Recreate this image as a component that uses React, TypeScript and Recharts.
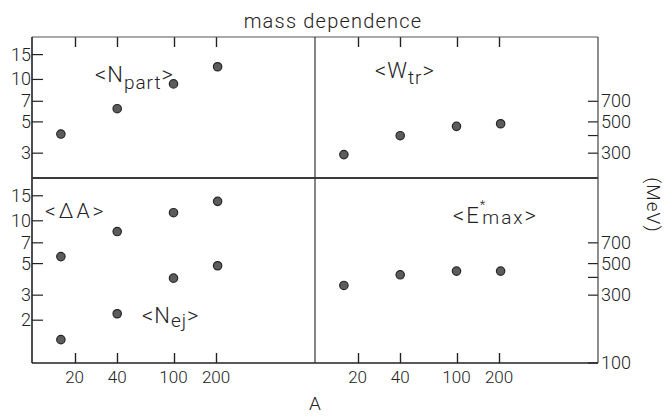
import React from 'react';
import { ScatterChart, Scatter, XAxis, YAxis } from 'recharts';

// mass numbers of the four systems
const massNumbers = [16, 40, 100, 205];
const massTicks = [20, 40, 100, 200];

const nPart = [4.1, 6.2, 9.3, 12.3];
const wTr = [293, 399, 465, 485];
const deltaA = [5.6, 8.4, 11.4, 13.7];
const nEj = [1.46, 2.22, 3.95, 4.83];
const eMax = [351, 417, 443, 443];

const topLeftTicks = [3, 5, 7, 10, 15];
const bottomLeftTicks = [2, 3, 5, 7, 10, 15];
const topRightTicks = [300, 400, 500, 700];
const bottomRightTicks = [100, 300, 400, 500, 700];
const labelledMeV = [100, 300, 500, 700];

const toPoints = (ys: number[]) => massNumbers.map((a, i) => ({ a, v: ys[i] }));

const INK = '#222';
const FONT = 'Roboto, "Liberation Sans", sans-serif';
const PLOT_TOP = 37;

// snap thin tick lines onto the pixel grid so they stay crisp
const crisp = (v: number) => Math.round(v) + 0.5;

const Dot = (p: any) => (
  <circle cx={p.cx} cy={p.cy} r={4.2} fill="#5c5c5c" stroke="#262626" strokeWidth={1.2} />
);

const BottomTick = (props: any) => {
  const { x, y, payload } = props;
  return (
    <g>
      <line x1={crisp(x)} x2={crisp(x)} y1={y} y2={y - 10} stroke={INK} strokeWidth={1.4} />
      <text x={x} y={y + 20} textAnchor="middle" fontSize={17} fontFamily={FONT} fontWeight={300} fill={INK}>
        {payload.value}
      </text>
    </g>
  );
};

// upper panels: the x scale's ticks are only marked on the top edge, pointing down
const TopTick = (props: any) => {
  const { x } = props;
  return (
    <g>
      <line x1={crisp(x)} x2={crisp(x)} y1={PLOT_TOP} y2={PLOT_TOP + 10} stroke={INK} strokeWidth={1.4} />
    </g>
  );
};

const LeftTick = (props: any) => {
  const { x, y, payload } = props;
  return (
    <g>
      <line x1={x} x2={x + 11} y1={y} y2={y} stroke={INK} strokeWidth={1.2} />
      <text x={x - 1} y={y + 6} textAnchor="end" fontSize={18} fontFamily={FONT} fontWeight={300} fill={INK}>
        {payload.value}
      </text>
    </g>
  );
};

const RightTick = (props: any) => {
  const { x, y, payload } = props;
  return (
    <g>
      <line x1={x} x2={x - 10} y1={y} y2={y} stroke={INK} strokeWidth={1.2} />
      {labelledMeV.includes(payload.value) && (
        <text x={x + 3} y={y + 6} textAnchor="start" fontSize={18} fontFamily={FONT} fontWeight={300} fill={INK}>
          {payload.value}
        </text>
      )}
    </g>
  );
};

// axes get 1px of size (0 makes recharts skip them), margins make up the rest
const xAxisProps = {
  dataKey: 'a',
  type: 'number' as const,
  scale: 'log' as const,
  domain: [10, 1000],
  allowDataOverflow: true,
  ticks: massTicks,
  interval: 0 as const,
  height: 1,
  tickLine: false,
  tickSize: 0,
  tickMargin: 0,
};

const yBase = {
  dataKey: 'v',
  type: 'number' as const,
  scale: 'log' as const,
  allowDataOverflow: true,
  interval: 0 as const,
  width: 1,
  axisLine: false,
  tickLine: false,
  tickSize: 0,
  tickMargin: 0,
};

const Panel = ({ left, top, width, height, margin, children }: any) => (
  <div style={{ position: 'absolute', left, top, width, height }}>
    <ScatterChart width={width} height={height} margin={margin}>
      {children}
    </ScatterChart>
  </div>
);

export default function App() {
  return (
    <div style={{ position: 'absolute', left: 0, top: 0, width: 664, height: 416, background: '#fff', fontFamily: FONT }}>
      <Panel left={0} top={0} width={315} height={179} margin={{ top: 37, left: 31, right: 0, bottom: 0 }}>
        <XAxis {...xAxisProps} axisLine={{ stroke: '#3a3a3a', strokeWidth: 2 }} tick={<TopTick />} />
        <YAxis {...yBase} domain={[2, 20]} ticks={topLeftTicks} tick={<LeftTick />} />
        <Scatter data={toPoints(nPart)} shape={Dot} isAnimationActive={false} />
      </Panel>
      <Panel left={315} top={0} width={349} height={179} margin={{ top: 37, left: 0, right: 65, bottom: 0 }}>
        <XAxis {...xAxisProps} axisLine={{ stroke: '#3a3a3a', strokeWidth: 2 }} tick={<TopTick />} />
        <YAxis {...yBase} orientation="right" domain={[200, 2000]} ticks={topRightTicks} tick={<RightTick />} />
        <Scatter data={toPoints(wTr)} shape={Dot} isAnimationActive={false} />
      </Panel>
      <Panel left={0} top={178} width={315} height={238} margin={{ top: 0, left: 31, right: 0, bottom: 52 }}>
        <XAxis {...xAxisProps} axisLine={false} tick={<BottomTick />} />
        <YAxis {...yBase} domain={[1, 20]} ticks={bottomLeftTicks} tick={<LeftTick />} />
        <Scatter data={toPoints(deltaA)} shape={Dot} isAnimationActive={false} />
        <Scatter data={toPoints(nEj)} shape={Dot} isAnimationActive={false} />
      </Panel>
      <Panel left={315} top={178} width={349} height={238} margin={{ top: 0, left: 0, right: 65, bottom: 52 }}>
        <XAxis {...xAxisProps} axisLine={false} tick={<BottomTick />} />
        <YAxis {...yBase} orientation="right" domain={[100, 2000]} ticks={bottomRightTicks} tick={<RightTick />} />
        <Scatter data={toPoints(eMax)} shape={Dot} isAnimationActive={false} />
      </Panel>

      <svg width={664} height={416} style={{ position: 'absolute', left: 0, top: 0, pointerEvents: 'none' }}>
        {/* frame */}
        <line x1={32} x2={598} y1={37} y2={37} stroke="#555" strokeWidth={1.2} />
        <line x1={32} x2={598} y1={363} y2={363} stroke={INK} strokeWidth={1.6} />
        <line x1={32} x2={32} y1={37} y2={363} stroke={INK} strokeWidth={1.6} />
        <line x1={598} x2={598} y1={37} y2={363} stroke="#444" strokeWidth={1.2} />
        <line x1={315} x2={315} y1={37} y2={363} stroke="#333" strokeWidth={1.2} />
        <line x1={32} x2={598} y1={178} y2={178} stroke="#3a3a3a" strokeWidth={2} />

        <g fontFamily={FONT} fontWeight={300} fill={INK}>
          <text x={333} y={28} textAnchor="middle" fontSize={20} letterSpacing={1.2}>mass dependence</text>
          <text x={315} y={410} textAnchor="middle" fontSize={19}>A</text>
          <text x={647} y={205} textAnchor="middle" fontSize={19} letterSpacing={1} transform="rotate(90 647 205)">(MeV)</text>

          <text x={95} y={82} fontSize={22} letterSpacing={1}>
            {'<N'}
            <tspan fontSize={19} dy={7}>part</tspan>
            <tspan dy={-7}>{'>'}</tspan>
          </text>
          <text x={375} y={78} fontSize={22} letterSpacing={1}>
            {'<W'}
            <tspan fontSize={19} dy={6}>tr</tspan>
            <tspan dy={-6}>{'>'}</tspan>
          </text>
          <text x={45} y={218} fontSize={21} letterSpacing={3}>{'<ΔA>'}</text>
          <text x={142} y={323} fontSize={22} letterSpacing={1}>
            {'<N'}
            <tspan fontSize={19} dy={4}>ej</tspan>
            <tspan dy={-4}>{'>'}</tspan>
          </text>
          <text x={453} y={223} fontSize={22} letterSpacing={2}>
            {'<E'}
            <tspan fontSize={13} dy={-14} dx={-1}>*</tspan>
            <tspan fontSize={19} dy={15} dx={-5}>max</tspan>
            <tspan dy={-1}>{'>'}</tspan>
          </text>
        </g>
      </svg>
    </div>
  );
}
